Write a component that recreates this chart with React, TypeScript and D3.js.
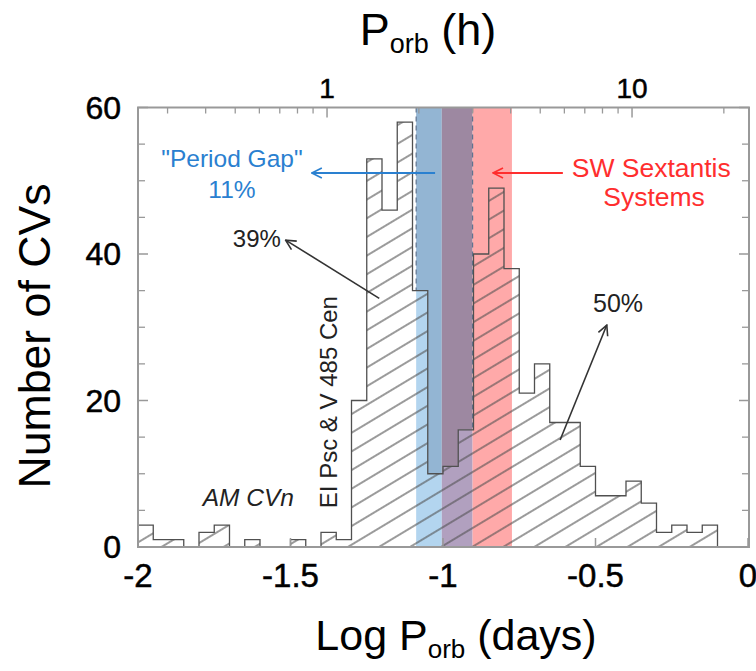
import React from 'react';
import * as d3 from 'd3';

// histogram of CV orbital periods, log(P/days), bins of 0.05
const binLeft = [
  -2.0, -1.95, -1.9, -1.85, -1.8, -1.75, -1.7, -1.65, -1.6, -1.55,
  -1.5, -1.45, -1.4, -1.35, -1.3, -1.25, -1.2, -1.15, -1.1, -1.05,
  -1.0, -0.95, -0.9, -0.85, -0.8, -0.75, -0.7, -0.65, -0.6, -0.55,
  -0.5, -0.45, -0.4, -0.35, -0.3, -0.25, -0.2, -0.15,
];
const counts = [
  3, 1, 1, 0, 2, 3, 0, 1, 0, 0,
  1, 0, 2, 1, 20, 53, 46, 58, 35, 10,
  11, 16, 40, 49, 38, 21, 25, 17, 17, 11,
  7, 7, 9, 6, 2, 3, 2, 3,
];
const binWidth = 0.05;

// shaded regions (log days)
const gapBand = [-1.088, -0.903];
const swSexBand = [-1.004, -0.774];

const xTicks = [-2, -1.5, -1, -0.5, 0];
const xTickLabels = ['-2', '-1.5', '-1', '-0.5', '0'];
const yTicks = [0, 20, 40, 60];
const yMinor = [5, 10, 15, 25, 30, 35, 45, 50, 55];
const hourMajor = [1, 10];
const hourMinor = [0.3, 0.4, 0.5, 0.6, 0.7, 0.8, 0.9, 2, 3, 4, 5, 6, 7, 8, 9, 20];

const W = 756;
const H = 671;

export default function App() {
  const x = d3.scaleLinear().domain([-2, 0]).range([138, 748]);
  const y = d3.scaleLinear().domain([0, 60]).range([547, 107.5]);
  const hx = (h: number) => x(Math.log10(h / 24));

  // step outline of the histogram
  const pts: [number, number][] = [[binLeft[0], 0]];
  binLeft.forEach((b, i) => {
    pts.push([b, counts[i]]);
    pts.push([b + binWidth, counts[i]]);
  });
  pts.push([binLeft[binLeft.length - 1] + binWidth, 0]);
  const histPath = d3.line<[number, number]>()
    .x(d => x(d[0]))
    .y(d => y(d[1]))(pts) + 'Z';

  const top = y(60);
  const bottom = y(0);
  const left = x(-2);
  const right = 749;

  const ovl = [Math.max(gapBand[0], swSexBand[0]), Math.min(gapBand[1], swSexBand[1])];

  const bandRects = (blue: string, purple: string, red: string) => (
    <>
      <rect x={x(gapBand[0])} y={top} width={x(ovl[0]) - x(gapBand[0])} height={bottom - top} fill={blue} />
      <rect x={x(ovl[0])} y={top} width={x(ovl[1]) - x(ovl[0])} height={bottom - top} fill={purple} />
      <rect x={x(ovl[1])} y={top} width={x(swSexBand[1]) - x(ovl[1])} height={bottom - top} fill={red} />
    </>
  );

  const annFont = '"Liberation Sans", Arial, sans-serif';
  const blueC = '#2a80d0';
  const redC = '#ff2e2e';
  const arrowC = '#333';

  return (
    <svg width={W} height={H} style={{ position: 'absolute', left: 0, top: 0, background: '#fff' }}
      fontFamily={annFont}>
      <defs>
        <pattern id="hatch" patternUnits="userSpaceOnUse" width="16" height="16" patternTransform="rotate(-31)">
          <line x1="0" y1="8" x2="16" y2="8" stroke="#505050" strokeWidth="1.15" />
        </pattern>
        <clipPath id="histClip">
          <path d={histPath} />
        </clipPath>
        {[['arrBlack', arrowC], ['arrBlue', blueC], ['arrRed', redC]].map(([id, c]) => (
          <marker key={id} id={id} viewBox="0 0 12 12" refX="11" refY="6" markerWidth="12" markerHeight="12"
            markerUnits="userSpaceOnUse" orient="auto">
            <path d="M1,1 L11,6 L1,11" fill="none" stroke={c} strokeWidth="1.6" />
          </marker>
        ))}
      </defs>

      {/* shaded bands, darker where above the histogram */}
      {bandRects('#93b5d3', '#9d88a1', '#ffa9a9')}
      {[gapBand[0], gapBand[1]].map((v, i) => (
        <line key={i} x1={x(v)} x2={x(v)} y1={top} y2={bottom} stroke="#5f7490" strokeWidth="1.2" strokeDasharray="5,4" />
      ))}
      <g clipPath="url(#histClip)">
        <rect x={left} y={top} width={right - left} height={bottom - top} fill="#fff" />
        {bandRects('#b3d5ef', '#b1a0bf', '#ffa9a9')}
        <rect x={left} y={top} width={right - left} height={bottom - top} fill="url(#hatch)" />
      </g>
      <path d={histPath} fill="none" stroke="#505050" strokeWidth="1.3" />

      {/* frame and ticks */}
      <rect x={left} y={top} width={right - left} height={bottom - top} fill="none" stroke="#999" strokeWidth="2" />
      {yTicks.map(v => (
        <g key={'y' + v}>
          <line x1={left} x2={left + 10} y1={y(v)} y2={y(v)} stroke="#999" strokeWidth="1.5" />
          <line x1={right} x2={right - 10} y1={y(v)} y2={y(v)} stroke="#999" strokeWidth="1.5" />
          <text x={121} y={y(v) + 11} textAnchor="end" fontSize="32" fill="#000" stroke="#000" strokeWidth="0.5">{v}</text>
        </g>
      ))}
      {yMinor.map(v => (
        <g key={'ym' + v}>
          <line x1={left} x2={left + 7} y1={y(v)} y2={y(v)} stroke="#999" strokeWidth="1.3" />
          <line x1={right} x2={right - 7} y1={y(v)} y2={y(v)} stroke="#999" strokeWidth="1.3" />
        </g>
      ))}
      {xTicks.map((v, i) => (
        <g key={'x' + v}>
          <line x1={x(v)} x2={x(v)} y1={bottom} y2={bottom - 9} stroke="#999" strokeWidth="1.5" />
          <text x={x(v)} y={587} textAnchor="middle" fontSize="33" fill="#000" stroke="#000" strokeWidth="0.5">{xTickLabels[i]}</text>
        </g>
      ))}
      {hourMajor.map(h => (
        <g key={'h' + h}>
          <line x1={hx(h)} x2={hx(h)} y1={top} y2={top + 10} stroke="#999" strokeWidth="1.5" />
          <text x={hx(h)} y={98} textAnchor="middle" fontSize="28" fill="#000" stroke="#000" strokeWidth="0.5">{h}</text>
        </g>
      ))}
      {hourMinor.map(h => (
        <line key={'hm' + h} x1={hx(h)} x2={hx(h)} y1={top} y2={top + 6} stroke="#999" strokeWidth="1.3" />
      ))}

      {/* axis titles */}
      <text transform="translate(50,336) rotate(-90)" textAnchor="middle" fontSize="44"
        textLength="305" lengthAdjust="spacingAndGlyphs" fill="#000">Number of CVs</text>
      <text x={456} y={650} textAnchor="middle" fontSize="43" fill="#000">
        Log P<tspan fontSize="26" dy="8">orb</tspan><tspan dy="-8"> (days)</tspan>
      </text>
      <text x={428} y={45} textAnchor="middle" fontSize="45" fill="#000">
        P<tspan fontSize="27" dy="8">orb</tspan><tspan dy="-8"> (h)</tspan>
      </text>

      {/* annotations */}
      <text x={x(-1.692)} y={y(51.9)} textAnchor="middle" fontSize="24.5" fill={blueC}>"Period Gap"</text>
      <text x={x(-1.692)} y={y(47.6)} textAnchor="middle" fontSize="24.5" fill={blueC}>11%</text>
      <line x1={x(-1.026)} y1={y(51.06)} x2={x(-1.43)} y2={y(51.06)} stroke={blueC} strokeWidth="1.8" markerEnd="url(#arrBlue)" />

      <text x={x(-0.578)} y={y(50.5)} fontSize="26.5" fill={redC}>SW Sextantis</text>
      <text x={x(-0.308)} y={y(46.5)} textAnchor="middle" fontSize="26.5" fill={redC}>Systems</text>
      <line x1={x(-0.607)} y1={y(51.06)} x2={x(-0.836)} y2={y(51.06)} stroke={redC} strokeWidth="1.8" markerEnd="url(#arrRed)" />

      <text x={x(-1.689)} y={y(41.0)} fontSize="24" fill="#222">39%</text>
      <line x1={x(-1.209)} y1={y(33.95)} x2={x(-1.516)} y2={y(41.9)} stroke={arrowC} strokeWidth="1.6" markerEnd="url(#arrBlack)" />

      <text x={x(-0.508)} y={y(32.1)} fontSize="25" fill="#222">50%</text>
      <line x1={x(-0.616)} y1={y(14.6)} x2={x(-0.463)} y2={y(30.3)} stroke={arrowC} strokeWidth="1.6" markerEnd="url(#arrBlack)" />

      <text x={x(-1.788)} y={y(5.6)} fontSize="24.5" fontStyle="italic" fill="#222">AM CVn</text>
      <text transform={`translate(${x(-1.348)},${y(5.3)}) rotate(-90)`} fontSize="24" fill="#222">EI Psc &amp; V 485 Cen</text>
    </svg>
  );
}
